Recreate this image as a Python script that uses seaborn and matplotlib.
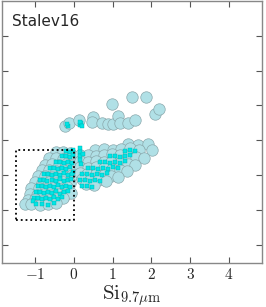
import numpy as np
import pandas as pd
import seaborn as sns
import matplotlib.pyplot as plt

# big points (all sources)
big_x = [
    # left clump
    -0.47, -0.28, -0.10,
    -0.65, -0.47, -0.28, -0.10,
    -0.75, -0.57, -0.39, -0.21, -0.05,
    -0.83, -0.65, -0.47, -0.28, -0.10,
    -0.93, -0.75, -0.57, -0.39, -0.21, -0.05,
    -1.01, -0.83, -0.65, -0.47, -0.28, -0.10,
    -1.09, -0.90, -0.72, -0.54, -0.36, -0.18,
    -1.14, -0.96, -0.78, -0.59, -0.41, -0.23, -0.08,
    -1.19, -1.01, -0.83, -0.65, -0.47, -0.28,
    -1.27, -1.09, -0.88, -0.67, -0.47,
    # right clump
    1.40, 1.65, 1.91,
    0.54, 0.78, 1.01, 1.21, 1.45, 1.68, 2.02,
    0.16, 0.36, 0.57, 0.78, 0.98, 1.19, 1.40, 1.60, 1.81,
    0.15, 0.37, 0.56, 0.79, 0.97, 1.20, 1.39, 1.58,
    0.16, 0.36, 0.58, 0.77, 0.99, 1.18, 1.38,
    0.17, 0.35, 0.57, 0.78, 0.97, 1.13,
    0.21, 0.41, 0.62, 0.83,
    0.31, 0.52,
    # upper group
    -0.23, -0.13, 0.13, 0.49, 0.47, 0.72, 0.88, 1.01, 1.14, 0.98,
    1.19, 1.40, 1.58, 1.50, 1.86, 2.09, 2.20,
]
big_y = [
    2.66, 2.68, 2.65,
    2.49, 2.51, 2.48, 2.50,
    2.31, 2.33, 2.30, 2.32, 2.29,
    2.14, 2.16, 2.13, 2.15, 2.12,
    1.97, 1.99, 1.96, 1.98, 1.95, 2.00,
    1.80, 1.78, 1.81, 1.79, 1.82, 1.77,
    1.63, 1.65, 1.61, 1.64, 1.62, 1.66,
    1.46, 1.44, 1.47, 1.45, 1.48, 1.43, 1.50,
    1.29, 1.31, 1.28, 1.30, 1.32, 1.34,
    1.17, 1.18, 1.16, 1.19, 1.21,
    2.89, 2.87, 2.90,
    2.74, 2.76, 2.73, 2.75, 2.77, 2.74, 2.72,
    2.57, 2.59, 2.56, 2.58, 2.60, 2.57, 2.55, 2.52, 2.50,
    2.40, 2.38, 2.41, 2.39, 2.37, 2.35, 2.32, 2.30,
    2.23, 2.21, 2.24, 2.20, 2.18, 2.15, 2.12,
    2.06, 2.04, 2.05, 2.02, 1.99, 1.96,
    1.89, 1.88, 1.86, 1.84,
    1.74, 1.72,
    3.40, 3.51, 3.57, 3.66, 3.54, 3.51, 3.46, 3.46, 3.71, 4.03,
    3.49, 3.49, 3.57, 4.23, 4.23, 3.77, 3.89,
]

# small points (selected subset)
small_x = [
    # upper group
    -0.15, -0.18, 0.17, 0.19, 0.15, 0.21,
    # gap column
    0.16, 0.17, 0.15, 0.16, 0.23, 0.18,
    # left clump
    -0.21, -0.10, -0.03,
    -0.31, -0.20, -0.11, -0.03,
    -0.47, -0.36, -0.25, -0.16, -0.05,
    -0.62, -0.51, -0.41, -0.30, -0.21, -0.10, -0.02,
    -0.78, -0.67, -0.56, -0.47, -0.36, -0.26, -0.15, -0.05,
    -0.88, -0.77, -0.68, -0.57, -0.46, -0.36, -0.25, -0.16, -0.06,
    -0.93, -0.83, -0.72, -0.61, -0.52, -0.41, -0.31, -0.20, -0.10,
    -0.98, -0.88, -0.77, -0.67, -0.56, -0.47, -0.36, -0.26, -0.15,
    -1.03, -0.93, -0.82, -0.72, -0.62, -0.51, -0.41, -0.30,
    -1.06, -0.98, -0.83, -0.67, -0.52,
    # right clump
    1.32, 1.45, 1.58,
    0.93, 1.06, 1.19, 1.32, 1.45,
    0.67, 0.80, 0.93, 1.06, 1.19, 1.32,
    0.36, 0.49, 0.62, 0.75, 0.88, 1.01, 1.14,
    0.21, 0.34, 0.47, 0.59, 0.72, 0.85,
    0.16, 0.28, 0.41, 0.54, 0.67,
    0.21, 0.34, 0.47,
]
small_y = [
    3.42, 3.47, 3.45, 3.50, 3.53, 3.42,
    2.77, 2.66, 2.54, 2.43, 2.60, 2.33,
    2.71, 2.68, 2.73,
    2.54, 2.56, 2.52, 2.57,
    2.37, 2.39, 2.35, 2.38, 2.36,
    2.20, 2.22, 2.18, 2.21, 2.19, 2.23, 2.10,
    2.03, 2.05, 2.01, 2.04, 2.02, 2.06, 2.00, 2.04,
    1.86, 1.88, 1.84, 1.87, 1.85, 1.89, 1.83, 1.86, 1.90,
    1.69, 1.71, 1.67, 1.70, 1.68, 1.72, 1.66, 1.70, 1.68,
    1.51, 1.53, 1.49, 1.52, 1.50, 1.54, 1.48, 1.52, 1.55,
    1.34, 1.36, 1.32, 1.35, 1.33, 1.37, 1.31, 1.38,
    1.26, 1.17, 1.19, 1.16, 1.20,
    2.71, 2.73, 2.70,
    2.54, 2.56, 2.52, 2.55, 2.57,
    2.37, 2.39, 2.35, 2.38, 2.36, 2.40,
    2.20, 2.22, 2.18, 2.21, 2.19, 2.23, 2.20,
    2.03, 2.05, 2.01, 2.04, 2.02, 2.06,
    1.86, 1.88, 1.84, 1.87, 1.85,
    1.69, 1.71, 1.67,
]

box_x = [-1.5, 0.0, 0.0, -1.5, -1.5]
box_y = [0.71, 0.71, 2.74, 2.74, 0.71]

df_big = pd.DataFrame({'x': big_x, 'y': big_y})
df_small = pd.DataFrame({'x': small_x, 'y': small_y})

sns.set_style('white')
plt.rcParams['mathtext.fontset'] = 'cm'

fig = plt.figure(figsize=(2.66, 3.07), dpi=100)
ax = fig.add_axes([0.0075, 0.143, 0.9775, 0.855])

sns.scatterplot(x='x', y='y', data=df_big, ax=ax, s=68, color='#b0e0e6',
                edgecolor='#8aa8ac', linewidth=0.5, zorder=2)
sns.scatterplot(x='x', y='y', data=df_small, ax=ax, s=7, marker='s', color='#00e5e5',
                edgecolor='#00b0b0', linewidth=0.3, zorder=3)
ax.plot(box_x, box_y, color='black', linestyle=':', linewidth=1.3, zorder=4)

ax.text(0.04, 0.92, 'Stalev16', transform=ax.transAxes, fontsize=11, ha='left', va='center')

ax.set_xlim(-1.85, 4.85)
ax.set_ylim(-0.51, 7.0)
ax.set_xticks([-1, 0, 1, 2, 3, 4])
ax.set_xticklabels([r'$-1$', r'$0$', r'$1$', r'$2$', r'$3$', r'$4$'], fontsize=11)
ax.set_yticks([0, 1, 2, 3, 4, 5, 6])
ax.set_yticklabels([])
ax.tick_params(direction='in', length=4, width=0.8, color='#555555',
               top=True, right=True, bottom=True, left=True, pad=3)
for sp in ax.spines.values():
    sp.set_color('#888888')
    sp.set_linewidth(1.0)
ax.set_xlabel(r'$\rm Si_{9.7\mu m}$', fontsize=15, labelpad=1)
ax.set_ylabel('')

fig.savefig('out.png', dpi=100)
